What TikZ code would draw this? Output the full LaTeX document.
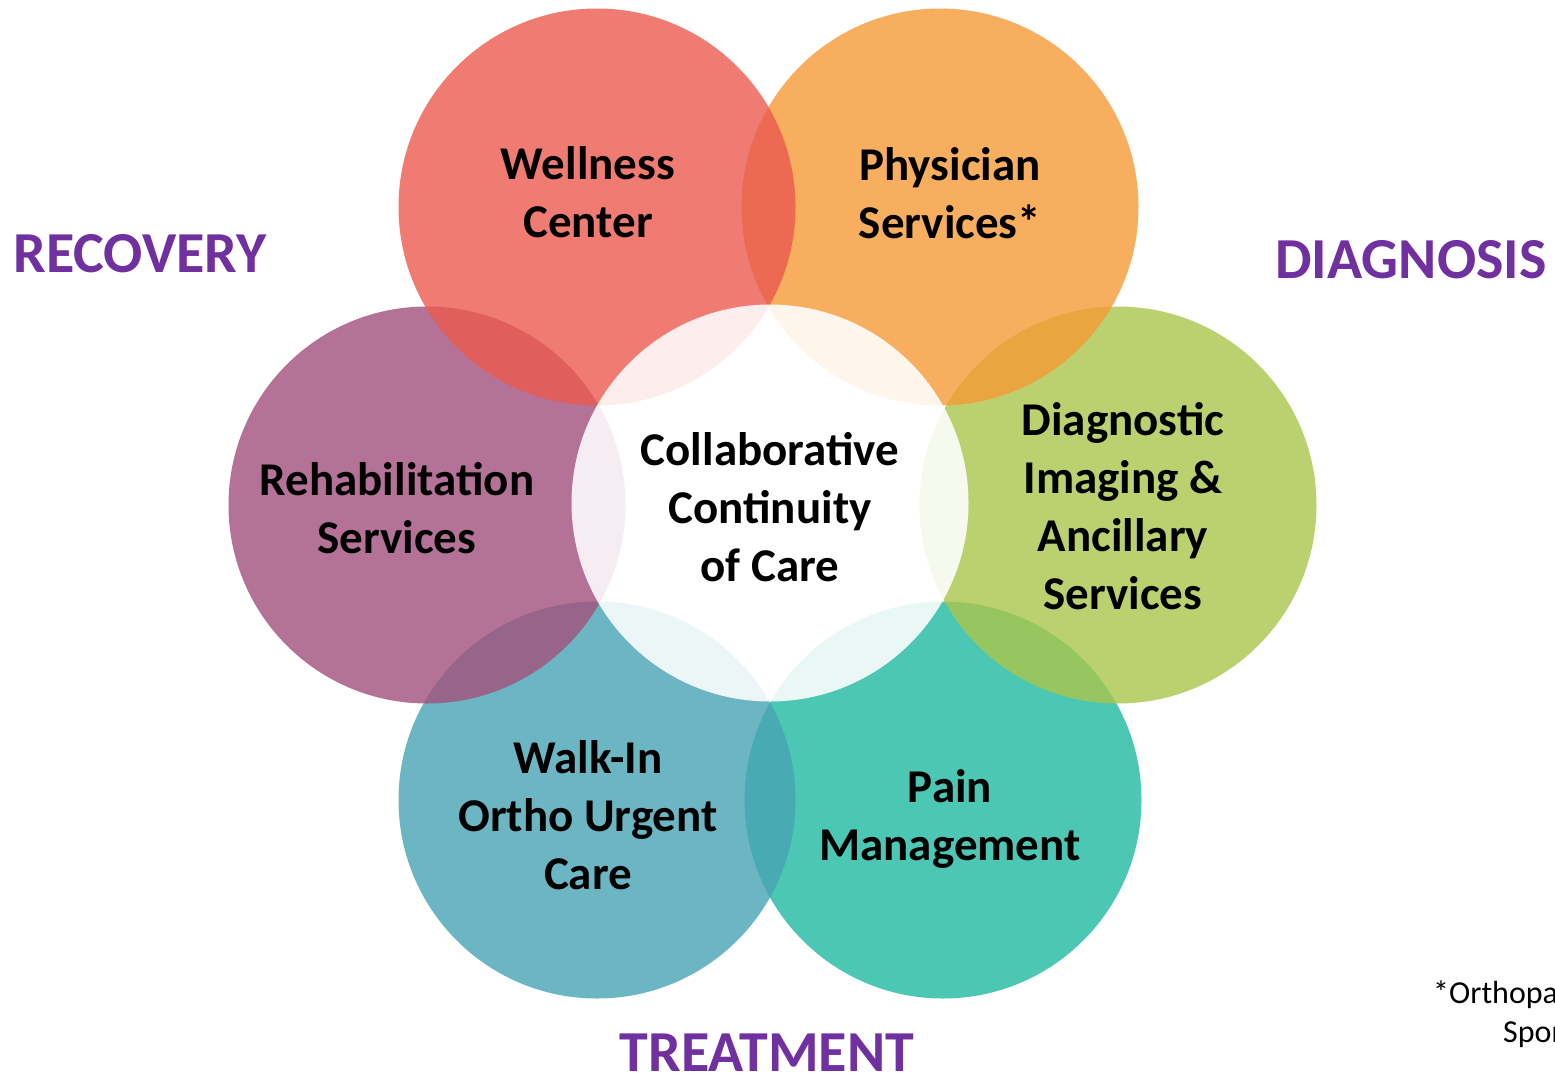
\documentclass[tikz,border=0pt]{standalone}
\usepackage{fontspec}
\setmainfont{Carlito}
\definecolor{cred}{RGB}{235,90,79}
\definecolor{corange}{RGB}{246,154,54}
\definecolor{cgreen}{RGB}{171,198,76}
\definecolor{cteal}{RGB}{30,186,161}
\definecolor{cblue}{RGB}{72,164,180}
\definecolor{cmauve}{RGB}{162,80,124}
\definecolor{stagepurple}{RGB}{112,48,160}
\begin{document}
\begin{tikzpicture}[x=1pt,y=-1pt,
  bub/.style={circle, minimum size=397pt, inner sep=0pt, draw=none, fill opacity=0.8},
  hub/.style={circle, minimum size=397pt, inner sep=0pt, draw=none, fill=white, fill opacity=0.88},
  lbl/.style={font=\bfseries\fontsize{47}{58}\selectfont, align=center, text=black, inner sep=0pt},
  stage/.style={font=\bfseries\fontsize{58}{70}\selectfont, text=stagepurple, inner sep=0pt},
  note/.style={font=\fontsize{32}{39}\selectfont, text=black, inner sep=0pt, anchor=base west}]
\clip (0,0) rectangle (1555,1076);
\fill[white] (0,0) rectangle (1555,1076);
% circles (drawing order matters for the overlaps)
\node[bub, fill=cteal]   (pain)   at (943,800) {};
\node[bub, fill=cblue]   (walk)   at (597,800) {};
\node[bub, fill=cmauve]  (rehab)  at (427,505) {};
\node[bub, fill=cgreen]  (diag)   at (1118,505) {};
\node[bub, fill=corange] (phys)   at (940,207) {};
\node[bub, fill=cred]    (well)   at (597,207) {};
\node[hub]               (hubc)   at (770,503) {};
% texts
\node[lbl] (twell)  at (588,192) {Wellness\\Center};
\node[lbl] (tphys)  at (950,193) {Physician\\Services*};
\node[lbl] (trehab) at (397,508) {Rehabilitation\\Services};
\node[lbl] (thub)   at (770,507) {Collaborative\\Continuity\\of Care};
\node[lbl] (tdiag)  at (1123,506) {Diagnostic\\Imaging \&\\Ancillary\\Services};
\node[lbl] (twalk)  at (588,815) {Walk-In\\Ortho Urgent\\Care};
\node[lbl] (tpain)  at (950,819) {Pain\\Management};
% stage labels
\node[stage] (rec)   at (140,254) {RECOVERY};
\node[stage] (dia)   at (1411,260) {DIAGNOSIS};
\node[stage] (tre)   at (767,1053) {TREATMENT};
% footnote
\node[note] (n1) at (1433,1003) {*Orthopaedics \&};
\node[note] (n2) at (1503,1042) {Sports Medicine};
\end{tikzpicture}
\end{document}
